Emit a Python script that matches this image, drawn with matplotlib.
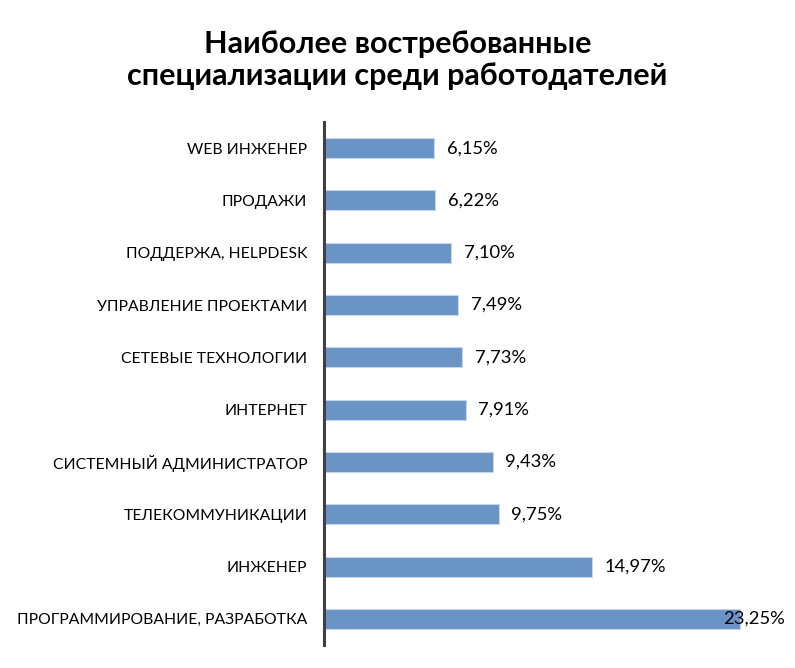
import matplotlib
matplotlib.use("Agg")
import matplotlib.pyplot as plt

plt.rcParams['font.family'] = ['Lato', 'DejaVu Sans']

# Data (top to bottom in the picture)
categories = [
    "WEB ИНЖЕНЕР",
    "ПРОДАЖИ",
    "ПОДДЕРЖА, HELPDESK",
    "УПРАВЛЕНИЕ ПРОЕКТАМИ",
    "СЕТЕВЫЕ ТЕХНОЛОГИИ",
    "ИНТЕРНЕТ",
    "СИСТЕМНЫЙ АДМИНИСТРАТОР",
    "ТЕЛЕКОММУНИКАЦИИ",
    "ИНЖЕНЕР",
    "ПРОГРАММИРОВАНИЕ, РАЗРАБОТКА",
]
values = [6.15, 6.22, 7.10, 7.49, 7.73, 7.91, 9.43, 9.75, 14.97, 23.25]
title = "Наиболее востребованные\nспециализации среди работодателей"

fig = plt.figure(figsize=(7.95, 6.68), dpi=100)
ax = fig.add_axes([0.4075, 0.0344, 0.5925, 0.783])

pos = list(range(len(categories)))
ax.barh(pos, values, height=0.38, color='#6a93c6', edgecolor='#c5d5ea', linewidth=0.8)
ax.set_yticks(pos)
ax.set_yticklabels(categories, fontsize=11.3)
ax.set_ylim(len(categories) - 0.5, -0.5)
ax.set_xlim(0, 26.31)
ax.set_xticks([])
ax.tick_params(axis='y', length=0, pad=12)

for s in ['top', 'right', 'bottom']:
    ax.spines[s].set_visible(False)
ax.spines['left'].set_color('#404040')
ax.spines['left'].set_linewidth(2.2)

xmax_label = 22.3
for p, v in zip(pos, values):
    txt = f"{v:.2f}%".replace('.', ',')
    x = min(v + 0.7, xmax_label)
    ax.text(x, p, txt, va='center', ha='left', fontsize=13.2)

fig.text(0.5, 0.91, title, ha='center', va='center', fontsize=22, fontweight='bold',
         linespacing=1.15)

fig.savefig("out.png", dpi=100)
